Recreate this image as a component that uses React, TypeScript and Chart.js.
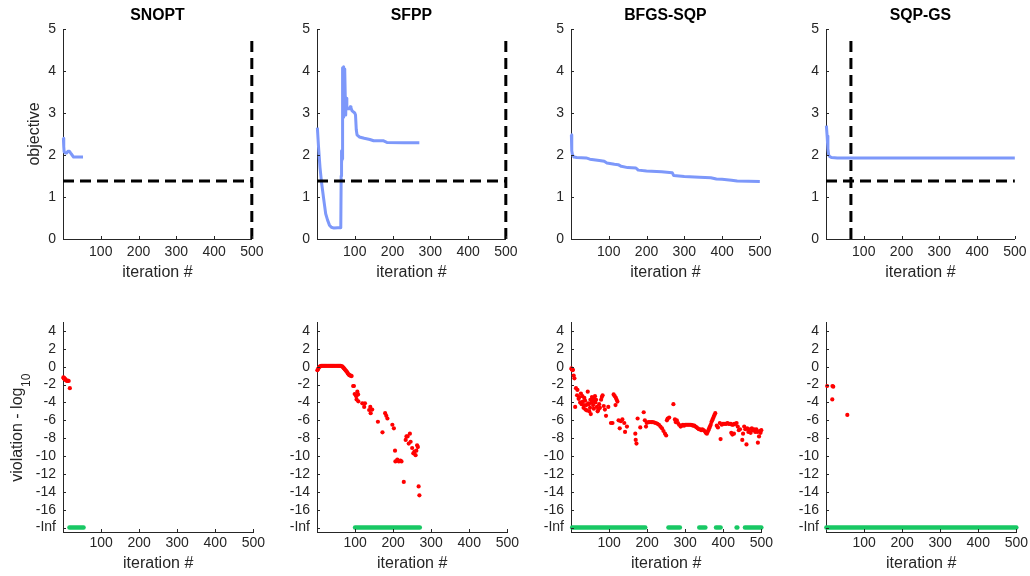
import { useEffect, useRef } from 'react';
import { Chart, registerables } from 'chart.js';

Chart.register(...registerables);

const FONT = "'Liberation Sans', Arial, Helvetica, sans-serif";
const INK = '#262626';
const BLUE = 'rgb(125,152,250)';
const RED = '#ff0000';
const GREEN = 'rgb(24,200,100)';

const methods = ['SNOPT', 'SFPP', 'BFGS-SQP', 'SQP-GS'];
const xTicks = [100, 200, 300, 400, 500];
const objTicks = [0, 1, 2, 3, 4, 5];
const violTicks = [-18, -16, -14, -12, -10, -8, -6, -4, -2, 0, 2, 4];
const INF_LEVEL = -18;

// dashed guides: best objective reached, and where each run stopped
const targetObjective = 1.38;
const showTarget = [true, true, false, true];
const stopIters = [500, 500, null, 66];
const stopLineTop = 4.73;

// objective per iteration [iteration, objective]
const snoptObjective = [
  [1, 2.4], [2, 2.2], [3, 2.08], [6, 2.05], [10, 2.05], [13, 2.09], [17, 2.09],
  [20, 2.05], [24, 2.0], [28, 1.95], [35, 1.95], [45, 1.95], [53, 1.95],
];
const sfppObjective = [
  [1, 2.65], [4, 2.2], [8, 1.7], [12, 1.35], [17, 1.0], [20, 0.8], [23, 0.6], [28, 0.45],
  [33, 0.33], [38, 0.28], [45, 0.26], [55, 0.27], [63, 0.27], [64, 1.5], [64.5, 2.1],
  [65.5, 1.8], [66.5, 2.1], [67.5, 1.9], [68, 4.08], [69, 3.0], [70, 4.1], [71, 2.9],
  [72, 4.05], [73, 3.1], [74, 4.0], [75, 3.3], [76, 2.95], [77, 3.35], [79, 3.1], [82, 3.1],
  [86, 3.1], [88, 3.15], [90, 3.12], [93, 3.05], [100, 3.0], [102, 2.95], [104, 2.6],
  [106, 2.48], [112, 2.43], [125, 2.4], [140, 2.37], [150, 2.34], [175, 2.34], [185, 2.3],
  [230, 2.29], [271, 2.29],
];
const bfgsObjective = [
  [1, 2.48], [2, 2.1], [4, 2.0], [8, 1.95], [15, 1.94], [40, 1.93], [50, 1.9], [75, 1.87],
  [88, 1.85], [95, 1.81], [115, 1.78], [125, 1.77], [133, 1.73], [150, 1.7], [172, 1.69],
  [178, 1.64], [200, 1.62], [240, 1.6], [268, 1.58], [272, 1.51], [300, 1.49], [340, 1.47],
  [370, 1.46], [385, 1.43], [400, 1.42], [425, 1.4], [440, 1.38], [500, 1.37],
];
const sqpgsObjective = [
  [1, 2.7], [3, 2.45], [5, 2.15], [7, 2.0], [10, 1.96], [15, 1.94], [30, 1.93], [500, 1.93],
];

// log10 of constraint violation, where it is nonzero [iteration, value]
const snoptViolation = [
  [1, -1.2], [2, -1.3], [3, -1.25], [4, -1.4], [6, -1.4], [7, -1.5], [9, -1.55],
  [11, -1.6], [13, -1.55], [15, -1.6], [18, -2.4],
];
const sfppViolation = [
  [1, -0.4], [3, -0.25], [5, -0.1], [7, 0], [9, 0.05], [11, 0.1], [14, 0.1], [17, 0.1],
  [20, 0.1], [23, 0.1], [26, 0.1], [29, 0.1], [32, 0.1], [35, 0.1], [38, 0.1], [41, 0.1],
  [44, 0.1], [47, 0.1], [50, 0.1], [53, 0.1], [56, 0.1], [59, 0.1], [62, 0.08], [65, 0.05],
  [67, 0], [69, -0.1], [71, -0.2], [73, -0.3], [75, -0.4], [77, -0.5], [79, -0.6],
  [81, -0.75], [83, -0.85], [85, -0.95], [87, -1.0], [89, -1.0], [91, -1.05],
  [95, -2.16], [97, -2.16], [99, -3.06], [103, -3.3], [104, -3.66], [106, -2.8], [108, -3.1],
  [108.5, -3.88], [119, -4.1], [124, -4.5], [126, -4.1], [137, -4.85], [140, -4.5],
  [141, -5.2], [145, -4.8], [160, -6.16], [172, -7.35], [179, -5.2], [182, -5.5], [185, -5.8],
  [198, -6.5], [202, -6.9], [205, -9.4], [206, -10.6], [211, -10.4], [215, -10.6],
  [219, -10.5], [222, -10.6], [228, -12.9], [233, -8.2], [235, -7.8], [238, -7.8],
  [241, -8.6], [244, -7.5], [246, -8.4], [250, -9.1], [253, -9.7], [256, -9.5], [259, -9.9],
  [261, -9.4], [263, -8.8], [265, -9.0], [267, -13.4], [269, -14.4],
];
const bfgsViolation = [
  [1, -0.2], [2, -0.3], [4, -0.4], [5, -0.35], [7, -1.0], [9, -1.3], [11, -4.5], [13, -2.4],
  [16, -3.2], [17, -2.6], [20, -3.6], [22, -3.4], [24, -4.0], [26, -3.0], [28, -4.2],
  [30, -3.3], [31, -3.9], [33, -4.6], [34, -4.3], [35, -3.5], [37, -3.8], [38, -4.8],
  [40, -4.3], [42, -4.9], [44, -2.8], [45, -4.1], [47, -4.2], [48, -5.0], [50, -4.6],
  [51, -3.7], [52, -5.3], [54, -4.0], [55, -3.4], [57, -3.8], [58, -4.3], [59, -3.5],
  [60, -4.7], [61, -3.9], [63, -3.3], [64, -4.0], [66, -3.7], [68, -4.5], [70, -5.0],
  [72, -4.8], [74, -4.2], [76, -4.6], [79, -3.7], [81, -3.4], [83, -3.2], [86, -4.4],
  [89, -4.8], [92, -5.5], [98, -4.5], [105, -6.3], [109, -6.3], [112, -3.1], [115, -3.3],
  [117, -4.3], [118, -3.5], [120, -3.7], [122, -3.9], [125, -6.0], [128, -6.9], [131, -6.1],
  [135, -5.9], [140, -6.3], [142, -7.3], [147, -6.7], [169, -7.5], [170, -8.2], [172, -8.6],
  [175, -5.8], [182, -6.8], [191, -5.1], [194, -6.0], [197, -6.7],
  [199, -6.3], [203, -6.2], [207, -6.2], [211, -6.2], [215, -6.2], [219, -6.25], [223, -6.3],
  [227, -6.4], [231, -6.5], [235, -6.7], [239, -6.9], [243, -7.2], [247, -7.5], [250, -7.7],
  [252, -6.0], [254, -5.8], [258, -5.7], [269, -4.2], [273, -5.9], [275, -6.2], [278, -6.0],
  [281, -6.3], [284, -6.5], [288, -6.7], [291, -6.6], [294, -6.5], [297, -6.6], [300, -6.5],
  [303, -6.5], [306, -6.5], [309, -6.5], [312, -6.5], [315, -6.5], [318, -6.55], [321, -6.6],
  [324, -6.6], [327, -6.7], [330, -6.8], [333, -6.9], [336, -7.0], [339, -7.0], [342, -7.1],
  [345, -7.0], [348, -7.1], [351, -7.2], [354, -7.4], [357, -7.5], [359, -7.3], [361, -7.1],
  [363, -6.9], [365, -6.7], [367, -6.5], [369, -6.2], [371, -6.0], [373, -5.8], [375, -5.6],
  [377, -5.4], [379, -5.2], [383, -6.6], [386, -6.8], [391, -6.3], [393, -8.1], [396, -6.5],
  [399, -6.4], [402, -6.4], [405, -6.4], [408, -6.4], [411, -6.3], [414, -6.4], [417, -6.4],
  [420, -6.4], [421, -7.4], [423, -6.5], [424, -7.6], [426, -6.5], [428, -7.5], [429, -6.4],
  [432, -6.4], [435, -6.3], [438, -6.7], [441, -7.1], [444, -7.0], [450, -8.2], [452, -7.5],
  [455, -6.7], [458, -7.0], [461, -8.7], [463, -6.9], [466, -7.3], [469, -7.0], [472, -7.4],
  [475, -6.9], [478, -7.1], [481, -7.0], [484, -7.3], [487, -7.0], [490, -7.3], [491, -8.5],
  [494, -7.8], [496, -7.2], [498, -7.4], [500, -7.1],
];
const sqpgsViolation = [[3, -2.16], [16.5, -3.66], [17, -2.16], [19, -2.24], [56, -5.4]];

// iteration spans where the violation is exactly zero (drawn at -Inf)
const snoptFeasible = [[17, 54]];
const sfppFeasible = [[100, 270]];
const bfgsFeasible = [[3, 195], [256, 286], [337, 353], [381, 393], [435, 437], [457, 500]];
const sqpgsFeasible = [[1, 500]];

const objectives = [snoptObjective, sfppObjective, bfgsObjective, sqpgsObjective];
const violations = [snoptViolation, sfppViolation, bfgsViolation, sqpgsViolation];
const feasibleSpans = [snoptFeasible, sfppFeasible, bfgsFeasible, sqpgsFeasible];

const colLeft = [3, 256.5, 510.5, 766];
const PANEL_W = 265;
const Y_AXIS_W = 60;

const pts = (rows) => rows.map(([x, y]) => ({ x, y }));

// MATLAB style ticks pointing into the axes
const innerTicks = {
  id: 'innerTicks',
  afterDatasetsDraw(chart) {
    const { ctx, chartArea: a, scales } = chart;
    ctx.save();
    ctx.strokeStyle = INK;
    ctx.lineWidth = 1;
    ctx.beginPath();
    scales.x.ticks.forEach((t) => {
      const px = Math.round(scales.x.getPixelForValue(t.value)) + 0.5;
      ctx.moveTo(px, a.bottom);
      ctx.lineTo(px, a.bottom - 3);
    });
    scales.y.ticks.forEach((t) => {
      const py = Math.round(scales.y.getPixelForValue(t.value)) + 0.5;
      ctx.moveTo(a.left, py);
      ctx.lineTo(a.left + 3, py);
    });
    ctx.stroke();
    ctx.restore();
  },
};

// "violation - log10" with a real subscript
const violationLabel = {
  id: 'violationLabel',
  afterDraw(chart) {
    const { ctx, chartArea: a } = chart;
    const main = 'violation - log';
    const sub = '10';
    ctx.save();
    ctx.fillStyle = INK;
    ctx.textBaseline = 'alphabetic';
    ctx.font = `16px ${FONT}`;
    const w1 = ctx.measureText(main).width;
    ctx.font = `12px ${FONT}`;
    const w2 = ctx.measureText(sub).width;
    ctx.translate(19, (a.top + a.bottom) / 2 + 1);
    ctx.rotate(-Math.PI / 2);
    const start = -(w1 + w2) / 2;
    ctx.font = `16px ${FONT}`;
    ctx.fillText(main, start, 0);
    ctx.font = `12px ${FONT}`;
    ctx.fillText(sub, start + w1 + 0.5, 8);
    ctx.restore();
  },
};

const dashed = (data) => ({
  data,
  showLine: true,
  borderColor: '#000',
  borderWidth: 3,
  borderDash: [11, 6],
  pointRadius: 0,
  clip: false,
});

function buildConfig(row, col) {
  const top = row === 0;
  const datasets = [];
  if (top) {
    if (showTarget[col]) {
      datasets.push(dashed([{ x: 0, y: targetObjective }, { x: 500, y: targetObjective }]));
    }
    if (stopIters[col] !== null) {
      datasets.push(dashed([{ x: stopIters[col], y: 0 }, { x: stopIters[col], y: stopLineTop }]));
    }
    datasets.push({
      data: pts(objectives[col]),
      showLine: true,
      borderColor: BLUE,
      borderWidth: 3,
      borderJoinStyle: 'round',
      pointRadius: 0,
      clip: false,
    });
  } else {
    datasets.push({
      data: pts(violations[col]),
      showLine: false,
      pointRadius: 2.1,
      pointBorderWidth: 0,
      backgroundColor: RED,
      clip: false,
    });
    feasibleSpans[col].forEach(([a, b]) => {
      datasets.push({
        data: [{ x: a, y: INF_LEVEL }, { x: b, y: INF_LEVEL }],
        showLine: true,
        borderColor: GREEN,
        borderWidth: 4.5,
        borderCapStyle: 'round',
        pointRadius: 0,
        clip: false,
      });
    });
  }

  const yTicks = top ? objTicks : violTicks;
  const plugins = [innerTicks];
  if (!top && col === 0) plugins.push(violationLabel);

  return {
    type: 'scatter',
    data: { datasets },
    options: {
      animation: false,
      responsive: true,
      maintainAspectRatio: false,
      events: [],
      layout: { padding: { top: top ? 0 : 32, right: 14, left: 0, bottom: 0 } },
      plugins: {
        legend: { display: false },
        tooltip: { enabled: false },
        title: {
          display: top,
          fullSize: false,
          text: methods[col],
          color: '#000',
          font: { family: FONT, size: 15.8, weight: 'bold' },
          padding: { top: 6, bottom: 4.04 },
        },
      },
      scales: {
        x: {
          type: 'linear',
          min: 0,
          max: 500,
          afterBuildTicks: (s) => { s.ticks = xTicks.map((v) => ({ value: v })); },
          afterFit: (s) => { s.height = top ? 51 : 44; },
          grid: { display: false, drawTicks: false },
          border: { display: true, color: INK, width: 1 },
          ticks: {
            color: INK,
            font: { family: FONT, size: 14 },
            padding: top ? 4.5 : 3,
            maxRotation: 0,
            autoSkip: false,
            callback: (v) => String(v),
          },
          title: {
            display: true,
            text: 'iteration #',
            color: INK,
            font: { family: FONT, size: 16 },
            padding: { top: 0, bottom: top ? 7.4 : 3.1 },
          },
        },
        y: {
          type: 'linear',
          min: top ? 0 : -18.5,
          max: 5,
          afterBuildTicks: (s) => { s.ticks = yTicks.map((v) => ({ value: v })); },
          afterFit: (s) => { s.width = Y_AXIS_W; },
          grid: { display: false, drawTicks: false },
          border: { display: true, color: INK, width: 1 },
          ticks: {
            color: INK,
            font: { family: FONT, size: 14 },
            padding: 7,
            autoSkip: false,
            callback: (v) => (v === INF_LEVEL && !top ? '-Inf' : String(v)),
          },
          title: {
            display: top && col === 0,
            text: 'objective',
            color: INK,
            font: { family: FONT, size: 16 },
            padding: { top: 22.4, bottom: 0 },
          },
        },
      },
    },
    plugins,
  };
}

function Panel({ row, col }) {
  const canvasRef = useRef(null);
  const chartRef = useRef(null);

  useEffect(() => {
    const ctx = canvasRef.current.getContext('2d');
    if (chartRef.current) chartRef.current.destroy();
    chartRef.current = new Chart(ctx, buildConfig(row, col));
    return () => {
      if (chartRef.current) {
        chartRef.current.destroy();
        chartRef.current = null;
      }
    };
  }, [row, col]);

  return (
    <div
      style={{
        position: 'absolute',
        left: colLeft[col],
        top: row === 0 ? 0 : 290,
        width: PANEL_W,
        height: row === 0 ? 290 : 286,
      }}
    >
      <canvas ref={canvasRef}></canvas>
    </div>
  );
}

export default function App() {
  Chart.defaults.font.family = FONT;
  return (
    <div style={{ position: 'fixed', left: 0, top: 0, width: 1030, height: 576, background: '#fff' }}>
      {[0, 1].map((row) => [0, 1, 2, 3].map((col) => <Panel key={`${row}-${col}`} row={row} col={col} />))}
    </div>
  );
}
